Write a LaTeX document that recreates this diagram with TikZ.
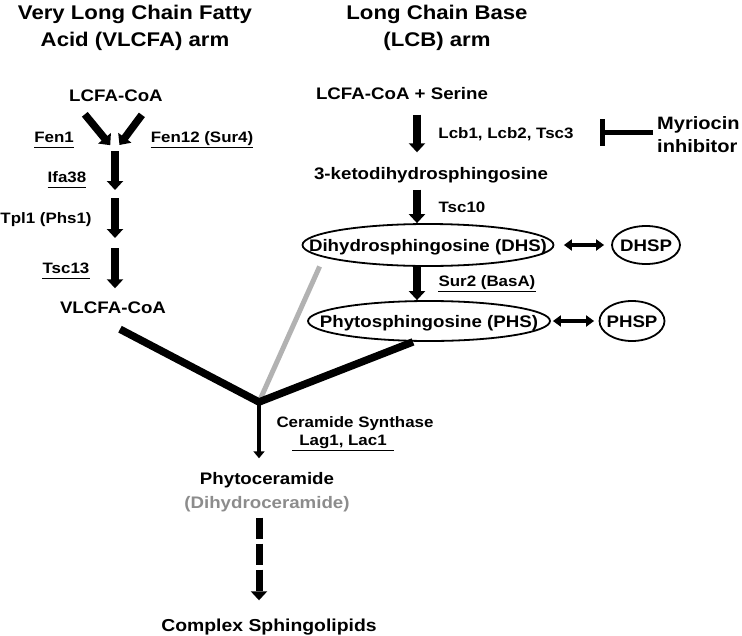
\documentclass[tikz,border=0pt]{standalone}
\usepackage{fontspec}
\setmainfont{Liberation Sans}[FakeStretch=1.12]
\usetikzlibrary{arrows.meta,shapes.geometric}
\definecolor{lgray}{RGB}{178,178,178}
\definecolor{tgray}{RGB}{140,140,140}

\begin{document}
\begin{tikzpicture}[x=1pt,y=-1pt,
  ttl/.style={font=\bfseries\fontsize{19.8}{27}\selectfont,align=center,inner sep=0pt},
  lbl/.style={font=\bfseries\fontsize{16.7}{20}\selectfont,text height=12pt,text depth=0pt,inner sep=0pt},
  enz/.style={font=\bfseries\fontsize{15.1}{18}\selectfont,text height=10.9pt,text depth=0pt,inner sep=0pt},
  uenz/.style={enz,inner ysep=4.5pt,append after command={(\tikzlastnode.south west) edge[draw,line width=1.3pt] (\tikzlastnode.south east)}},
  ell/.style={lbl,draw,ellipse,line width=1.8pt},
  arr/.style={line width=7.5pt,-{Triangle[width=16pt,length=9pt]}},
  arrs/.style={line width=4.5pt,-{Triangle[width=11pt,length=7pt]}},
  dbl/.style={line width=4.5pt,{Triangle[width=11pt,length=8pt]}-{Triangle[width=11pt,length=8pt]}},
  inh/.style={line width=5pt,-{Bar[width=27pt]}},
  bigln/.style={line width=7.5pt,line join=miter},
  grayln/.style={line width=5pt,draw=lgray}]
\useasboundingbox (0,0) rectangle (742,635);

\node[ttl] (vlttl) at (135,27.5) {Very Long Chain Fatty\\Acid (VLCFA) arm};
\node[ttl] (lbttl) at (437,27.5) {Long Chain Base\\(LCB) arm};

\node[lbl] (lcfa) at (116,95) {LCFA-CoA};
\node[uenz] (fen1) at (54,137) {Fen1};
\node[uenz] (fen12) at (202,137) {Fen12 (Sur4)};
\node[uenz] (ifa) at (67,177) {Ifa38};
\node[enz] (tpl) at (46,218) {Tpl1 (Phs1)};
\node[uenz] (tsc13) at (66,268) {Tsc13};
\node[lbl] (vlcfa) at (113,307) {VLCFA-CoA};

\node[lbl] (serine) at (402,93) {LCFA-CoA + Serine};
\node[enz] (lcb) at (506,133) {Lcb1, Lcb2, Tsc3};
\node[font=\bfseries\fontsize{17.9}{23}\selectfont,align=left,inner sep=0pt,anchor=west] (myr) at (657,134.5) {Myriocin\\inhibitor};
\node[lbl] (keto) at (431,173) {3-ketodihydrosphingosine};
\node[enz] (tsc10) at (462,207) {Tsc10};
\node[ell,minimum width=251pt,minimum height=42pt] (dhs) at (428,245) {\makebox[0pt]{Dihydrosphingosine (DHS)}};
\node[ell,minimum width=68pt,minimum height=38pt] (dhsp) at (646,245) {\makebox[0pt]{DHSP}};
\node[uenz] (sur2) at (487,281) {Sur2 (BasA)};
\node[ell,minimum width=242pt,minimum height=40pt] (phs) at (429,321) {\makebox[0pt]{Phytosphingosine (PHS)}};
\node[ell,minimum width=65pt,minimum height=40pt] (phsp) at (632,321) {\makebox[0pt]{PHSP}};

\node[enz] (cers) at (355,422) {Ceramide Synthase};
\node[uenz,inner xsep=7pt] (lag) at (343,440) {Lag1, Lac1};
\node[lbl] (phyto) at (267,478) {Phytoceramide};
\node[lbl,text=tgray] (dihyd) at (267,502) {(Dihydroceramide)};
\node[lbl,font=\bfseries\fontsize{17.3}{20}\selectfont] (cplx) at (269,625) {Complex Sphingolipids};

\coordinate (mrg) at (115,151);
\coordinate (s1) at (115,194);
\coordinate (s2) at (115,243);
\coordinate (rc) at (417,0);
\coordinate (junc) at (259,402);
\coordinate (blk) at (600,132);

\draw[arr,shorten <=17pt,shorten >=7.5pt] ([xshift=-42pt]lcfa.south) -- (mrg);
\draw[arr,shorten <=17pt,shorten >=7.5pt] ([xshift=36pt]lcfa.south) -- (mrg);
\draw[arr,shorten >=4pt] (mrg) -- (s1);
\draw[arr,shorten <=4pt,shorten >=5pt] (s1) -- (s2);
\draw[arr,shorten <=5pt,shorten >=12.5pt] (s2) -- (vlcfa.north -| s2);

\draw[arr,shorten <=15.5pt,shorten >=14.5pt] (serine.south -| rc) -- (keto.north -| rc);
\draw[arr,shorten <=10.5pt] (keto.south -| rc) -- (dhs.north -| rc);
\draw[arr] (dhs.south -| rc) -- (phs.north -| rc);
\draw[dbl,shorten <=9.5pt,shorten >=7pt] (dhs) -- (dhsp);
\draw[dbl,shorten <=2pt,shorten >=4.5pt] (phs) -- (phsp);
\draw[inh,shorten <=4pt] (myr.west |- blk) -- (blk);

\draw[grayln] (junc) -- ([shift={(-19pt,-6pt)}]dhs.south west);
\draw[bigln] ([shift={(7pt,-16pt)}]vlcfa.south) -- (junc) -- ([xshift=-16pt]phs.south);
\draw[arrs,shorten >=13.5pt] (junc) -- (phyto.north -| junc);
\draw[arr,line width=7pt,dash pattern=on 21pt off 5pt,shorten <=9.5pt,shorten >=18.5pt] (dihyd.south -| junc) -- (cplx.north -| junc);
\end{tikzpicture}
\end{document}
